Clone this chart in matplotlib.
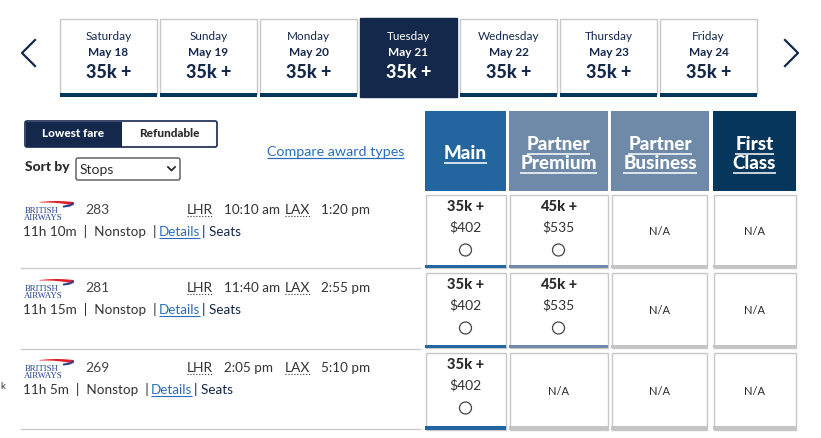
import matplotlib.pyplot as plt
import matplotlib.patches as patches
import numpy as np

plt.rcParams["font.family"] = ["Lato", "DejaVu Sans"]

# date strip
days = ["Saturday", "Sunday", "Monday", "Tuesday", "Wednesday", "Thursday", "Friday"]
dates = ["May 18", "May 19", "May 20", "May 21", "May 22", "May 23", "May 24"]
day_prices = ["35k +", "35k +", "35k +", "35k +", "35k +", "35k +", "35k +"]
selected_day = 3

# flights
flight_numbers = ["283", "281", "269"]
origin = "LHR"
destination = "LAX"
depart_times = ["10:10 am", "11:40 am", "2:05 pm"]
arrive_times = ["1:20 pm", "2:55 pm", "5:10 pm"]
durations = ["11h 10m", "11h 15m", "11h 5m"]
stops = ["Nonstop", "Nonstop", "Nonstop"]

# cabins
cabins = ["Main", "Partner\nPremium", "Partner\nBusiness", "First\nClass"]
points = [["35k +", "45k +", None, None],
          ["35k +", "45k +", None, None],
          ["35k +", None, None, None]]
fares = [["$402", "$535", None, None],
         ["$402", "$535", None, None],
         ["$402", None, None, None]]

NAVY = "#14284b"
DARK = "#2b2b2b"
LINK = "#2a6ebb"
GRAY = "#c4c4c4"
cabin_colors = ["#23669f", "#6e8aa8", "#6e8aa8", "#06365c"]

fig = plt.figure(figsize=(8.21, 4.39), dpi=100)
ax = fig.add_axes([0, 0, 1, 1])
ax.set_xlim(0, 821)
ax.set_ylim(439, 0)
ax.axis("off")
renderer = fig.canvas.get_renderer()


def underline(txt, dy=2, color="white", lw=1.0, ls="-"):
    bb = txt.get_window_extent(renderer=renderer)
    inv = ax.transData.inverted()
    (x0, y0), (x1, y1) = inv.transform([(bb.x0, bb.y0), (bb.x1, bb.y1)])
    y = max(y0, y1) + dy
    ax.plot([x0, x1], [y, y], color=color, lw=lw, ls=ls, solid_capstyle="butt")


# chevrons
ax.plot([35, 22, 35], [41, 54, 67], color=NAVY, lw=1.6)
ax.plot([785, 798, 785], [41, 54, 67], color=NAVY, lw=1.6)

# date tabs
for i, (d, dt, p) in enumerate(zip(days, dates, day_prices)):
    x0 = 60 + i * 100
    cx = x0 + 48.5
    if i == selected_day:
        ax.add_patch(patches.Rectangle((x0, 19), 97, 79, facecolor=NAVY, edgecolor=NAVY, lw=1))
        col = "white"
    else:
        ax.add_patch(patches.Rectangle((x0, 19.5), 97, 75, facecolor="white", edgecolor="#c8c8c8", lw=1))
        ax.add_patch(patches.Rectangle((x0, 94), 97, 4, facecolor="#03365c", edgecolor="none"))
        col = NAVY
    ax.text(cx, 36, d, ha="center", va="center", fontsize=8.5, color=col)
    ax.text(cx, 52, dt, ha="center", va="center", fontsize=8.5, color=col, fontweight="bold")
    ax.text(cx, 72, p, ha="center", va="center", fontsize=13, color=col, fontweight="black")

# fare toggle
ax.add_patch(patches.FancyBboxPatch((25, 122), 192, 26, boxstyle="round,pad=0,rounding_size=2",
                                    facecolor="white", edgecolor=NAVY, lw=1.2))
ax.add_patch(patches.Rectangle((25.5, 122.5), 96.5, 25, facecolor=NAVY, edgecolor="none"))
ax.text(73, 134, "Lowest fare", ha="center", va="center", fontsize=8.5, color="white", fontweight="black")
ax.text(169, 134, "Refundable", ha="center", va="center", fontsize=8.5, color=DARK, fontweight="black")

# sort by
ax.text(25, 167, "Sort by", ha="left", va="center", fontsize=10, color=DARK, fontweight="black")
ax.add_patch(patches.FancyBboxPatch((76, 159), 104, 22, boxstyle="round,pad=0,rounding_size=2",
                                    facecolor="white", edgecolor="#555555", lw=1))
ax.text(80, 170.5, "Stops", ha="left", va="center", fontsize=10, color=DARK)
ax.plot([168, 171.5, 175], [168, 171.5, 168], color=DARK, lw=1.3)

t = ax.text(267, 152, "Compare award types", ha="left", va="center", fontsize=10.3, color=LINK)
underline(t, dy=1.5, color=LINK, lw=0.9)

# cabin headers
cab_x = [425, 509, 611, 713]
cab_w = [81, 99, 98, 83]
for cx0, w, name, c in zip(cab_x, cab_w, cabins, cabin_colors):
    ax.add_patch(patches.Rectangle((cx0, 112), w, 80, facecolor=c, edgecolor="none"))
    lines = name.split("\n")
    ys = [154] if len(lines) == 1 else [145, 164]
    for yy, ln in zip(ys, lines):
        tt = ax.text(cx0 + w / 2, yy, ln, ha="center", va="center", fontsize=13.5,
                     color="white", fontweight="black")
        underline(tt, dy=1.5, color="white", lw=1.1)

# flight rows
row_tops = [195, 273, 353]
row_h = [74, 76, 78]
sep_y = [269, 350, 430]
for y in sep_y:
    ax.plot([21, 420], [y, y], color="#cccccc", lw=1)

for r in range(len(flight_numbers)):
    y1 = row_tops[r] + 15
    y2 = y1 + 22
    # British Airways logo
    xs = np.linspace(39, 73, 30)
    top_edge = y1 - 7.5 - 1.0 * np.sin(np.pi * (xs - 39) / 34)
    bot_edge = top_edge + 0.5 + 3.0 * (xs - 39) / 34
    ax.fill_between(xs, top_edge, bot_edge, color="#e0202a", lw=0)
    ax.plot([64, 70, 73], [y1 - 2.5, y1 - 3.5, y1 - 5.5], color="#1f3f8f", lw=1.4)
    ax.text(24.5, y1 + 1, "BRITISH", ha="left", va="center", fontsize=6.3, color="#1f3f8f",
            family="Liberation Serif")
    ax.text(23.5, y1 + 8, "AIRWAYS", ha="left", va="center", fontsize=6.3, color="#1f3f8f",
            family="Liberation Serif")
    ax.text(85, y1, flight_numbers[r], ha="left", va="center", fontsize=10, color="#444444")
    for xx, s in [(187, origin), (285, destination)]:
        tt = ax.text(xx, y1, s, ha="left", va="center", fontsize=10, color="#333333")
        underline(tt, dy=1, color="#333333", lw=0.8, ls=":")
    ax.text(224, y1, depart_times[r], ha="left", va="center", fontsize=9.7, color="#333333")
    ax.text(321, y1, arrive_times[r], ha="left", va="center", fontsize=9.7, color="#333333")
    t1 = ax.text(23, y2, f"{durations[r]}  |  {stops[r]}  |", ha="left", va="center",
                 fontsize=9.7, color="#333333")
    bb = t1.get_window_extent(renderer=renderer)
    xd = ax.transData.inverted().transform((bb.x1, 0))[0] + 2
    t2 = ax.text(xd, y2, "Details", ha="left", va="center", fontsize=9.7, color=LINK)
    underline(t2, dy=1, color=LINK, lw=0.8)
    bb = t2.get_window_extent(renderer=renderer)
    xd = ax.transData.inverted().transform((bb.x1, 0))[0] + 2
    ax.text(xd, y2, "| Seats", ha="left", va="center", fontsize=9.7, color=NAVY)

    # fare cells
    top = row_tops[r]
    h = row_h[r]
    for c in range(len(cabins)):
        x0 = cab_x[c]
        w = cab_w[c] - 2 if c == 2 else cab_w[c]
        ax.add_patch(patches.Rectangle((x0 + 0.5, top + 0.5), w - 1, h - 1, facecolor="white",
                                       edgecolor="#c8c8c8", lw=1))
        cx = x0 + w / 2
        if points[r][c] is None:
            bar = GRAY
            ax.text(cx, top + h / 2, "N/A", ha="center", va="center", fontsize=8, color=DARK)
        else:
            bar = cabin_colors[c]
            ax.text(cx, top + 12, points[r][c], ha="center", va="center", fontsize=10.5,
                    color=DARK, fontweight="black")
            ax.text(cx, top + 32, fares[r][c], ha="center", va="center", fontsize=10,
                    color="#333333")
            ax.add_patch(patches.Circle((cx, top + 56), 6, facecolor="white",
                                        edgecolor="#444444", lw=0.9))
        ax.add_patch(patches.Rectangle((x0, top + h - 3.5), w, 3.5, facecolor=bar, edgecolor="none"))

# cut-off character at left edge
ax.text(0, 387, "k", ha="left", va="center", fontsize=7, color="#333333")

fig.savefig("out.png", dpi=100)
